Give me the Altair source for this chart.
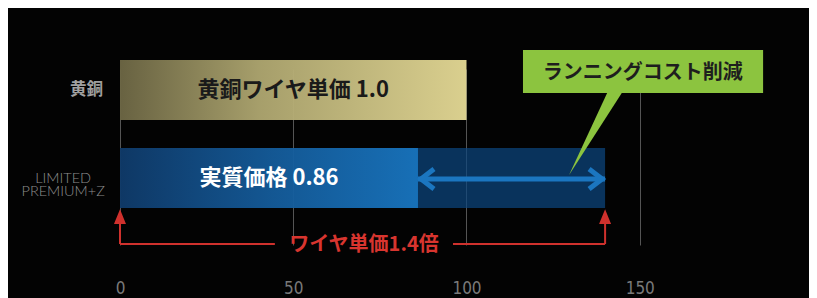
import altair as alt
import pandas as pd

# ---- data ----
categories = ["黄銅", "LIMITED PREMIUM+Z"]
bar_values = [100, 86]                      # 実質価格 (brass = 100)
bar_labels = ["黄銅ワイヤ単価 1.0", "実質価格 0.86"]
wire_price = 140                            # LIMITED PREMIUM+Z wire unit price (1.4x)
x_ticks = [0, 50, 100, 150, 200]
callout_text = "ランニングコスト削減"
ratio_text = "ワイヤ単価1.4倍"

df = pd.DataFrame({"cat": categories, "value": bar_values, "label": bar_labels})

JP = "Noto Sans CJK JP"
NARROW = "'Liberation Sans Narrow', 'DejaVu Sans Condensed', 'Roboto', sans-serif"
RED = "#cf312d"
GREEN = "#8cc43f"
ARROW_BLUE = "#1b76c0"
LP = categories[1]
BR = categories[0]

xscale = alt.Scale(domain=[0, 689 / 3.465], nice=False)
xaxis = alt.Axis(values=x_ticks, grid=True, gridColor="#555555", gridWidth=1,
                 domain=False, ticks=False, labelFlush=False, title=None,
                 labelColor="#7a7a7a", labelFont=NARROW, labelFontSize=17,
                 labelFontWeight="normal", labelPadding=8)
yscale = alt.Scale(domain=categories, range=[27, 203], paddingInner=0.318, paddingOuter=0.159)
yaxis = alt.Axis(title=None, domain=False, ticks=False, grid=False, labels=False)

Y = alt.Y("cat:N", scale=yscale, axis=yaxis, sort=categories, title=None)
YB = alt.Y("brcat:N", title=None)

base = alt.Chart(df).transform_calculate(
    wire=str(wire_price), mid="datum.value / 2", brcat="'%s'" % BR,
    lines="split(datum.cat, ' ')", ylx_br="-4.9", ylx_lp="-16.4",
    bx0="116.3", bx1="185.6", tipx="129.6", tx="150.9",
    l0="0", l1="44.7", r0="96.1", rx="70.4")

brass_grad = alt.LinearGradient(gradient="linear", x1=0, x2=1, y1=0, y2=0, stops=[
    alt.GradientStop(color="#6c6644", offset=0),
    alt.GradientStop(color="#ada56f", offset=0.4),
    alt.GradientStop(color="#e3d894", offset=1)])
blue_grad = alt.LinearGradient(gradient="linear", x1=0, x2=1, y1=0, y2=0, stops=[
    alt.GradientStop(color="#0f3a69", offset=0),
    alt.GradientStop(color="#145a98", offset=0.5),
    alt.GradientStop(color="#1874be", offset=1)])

br = base.transform_filter(alt.datum.cat == BR)
lp = base.transform_filter(alt.datum.cat == LP)

brass = br.mark_bar(fill=brass_grad, opacity=0.96).encode(
    x=alt.X("value:Q", scale=xscale, axis=xaxis), y=Y)
blue = lp.mark_bar(fill=blue_grad, opacity=0.96).encode(x="value:Q", y=Y)
ext = lp.mark_bar(color="#0d4680", opacity=0.72).encode(x="value:Q", x2="wire:Q", y=Y)

# category labels (left of the plot)
ylab_br = br.mark_text(font=JP, fontSize=16.5, fontWeight="bold", color="#a0a0a0",
                       align="right", baseline="middle").encode(x="ylx_br:Q", y=Y, text="lines:N")
ylab_lp = lp.mark_text(font="Lato", fontSize=14.5, fontWeight=300, color="#8e8e8e", lineHeight=13,
                       align="center", baseline="middle", yOffset=1).encode(x="ylx_lp:Q", y=Y, text="lines:N")

bar_text_dark = br.mark_text(font=JP, fontSize=22, fontWeight="bold", color="#1a1a1a",
                             baseline="middle").encode(x="mid:Q", y=Y, text="label:N")
bar_text_light = lp.mark_text(font=JP, fontSize=22, fontWeight="bold", color="#ffffff",
                              baseline="middle").encode(x="mid:Q", y=Y, text="label:N")

shaft = lp.mark_rule(color=ARROW_BLUE, strokeWidth=5, yOffset=1).encode(x="value:Q", x2="wire:Q", y=Y)
head_l = lp.mark_point(shape="M16,-10 L3,0 L16,10", size=4, filled=False, stroke=ARROW_BLUE,
                       strokeWidth=5, strokeJoin="miter", opacity=1, yOffset=1).encode(x="value:Q", y=Y)
head_r = lp.mark_point(shape="M-16,-10 L-3,0 L-16,10", size=4, filled=False, stroke=ARROW_BLUE,
                       strokeWidth=5, strokeJoin="miter", opacity=1, yOffset=1).encode(x="wire:Q", y=Y)

# callout
box = lp.mark_rule(color=GREEN, strokeWidth=43, yOffset=-18.5).encode(x="bx0:Q", x2="bx1:Q", y=YB)
pointer = lp.mark_point(shape="M0,0 L39,-84 L54,-84 Z", size=4, filled=True, color=GREEN,
                        opacity=1, strokeWidth=0, yOffset=-3).encode(x="tipx:Q", y=Y)
box_text = lp.mark_text(text=callout_text, font=JP, fontSize=20, fontWeight="bold",
                        color="#1e1e1e", baseline="middle", yOffset=-17).encode(x="tx:Q", y=YB)

# red 1.4x bracket
bracket = "M0,0 L0,-24 M-4.5,-21 L0,-32 L4.5,-21 Z"
br_l = lp.mark_point(shape=bracket, size=4, filled=True, fill=RED, stroke=RED, strokeWidth=2,
                     opacity=1, yOffset=66).encode(x="l0:Q", y=Y)
br_r = lp.mark_point(shape=bracket, size=4, filled=True, fill=RED, stroke=RED, strokeWidth=2,
                     opacity=1, yOffset=66).encode(x="wire:Q", y=Y)
line_l = lp.mark_rule(color=RED, strokeWidth=2, yOffset=66).encode(x="l0:Q", x2="l1:Q", y=Y)
line_r = lp.mark_rule(color=RED, strokeWidth=2, yOffset=66).encode(x="r0:Q", x2="wire:Q", y=Y)
ratio = lp.mark_text(text=ratio_text, font=JP, fontSize=20, fontWeight="bold", color="#d8352f",
                     baseline="middle", yOffset=67).encode(x="rx:Q", y=Y)

chart = alt.layer(brass, blue, ext, ylab_br, ylab_lp, bar_text_dark, bar_text_light, shaft, head_l, head_r,
                  box, pointer, box_text, line_l, line_r, br_l, br_r, ratio).properties(
    width=689, height=253,
    autosize=alt.AutoSizeParams(type="none"),
    padding={"left": 112, "top": 11, "right": 0, "bottom": 26},
    background="#030303",
).configure_view(stroke=None)

chart.save("out.html", embed_options={"renderer": "svg", "actions": False})
